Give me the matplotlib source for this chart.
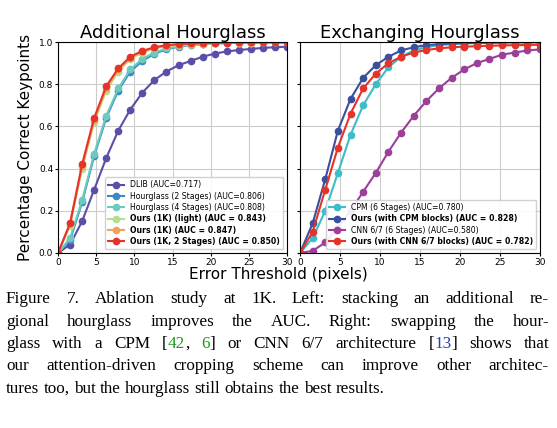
import numpy as np
import matplotlib
matplotlib.use("Agg")
import matplotlib.pyplot as plt

x = np.linspace(0, 30, 20)
dlib = [0,.04,.15,.30,.45,.58,.68,.76,.82,.86,.89,.91,.93,.945,.955,.962,.967,.972,.975,.978]
hg2 = [0,.06,.24,.46,.64,.77,.86,.91,.945,.965,.978,.985,.99,.993,.995,.996,.997,.998,.998,.999]
hg4 = [0,.07,.25,.47,.65,.78,.87,.92,.95,.97,.98,.987,.99,.993,.995,.996,.997,.998,.998,.999]
light = [0,.13,.40,.62,.77,.86,.92,.95,.97,.98,.985,.99,.992,.994,.995,.996,.997,.998,.998,.999]
ours1k = [0,.14,.41,.63,.78,.87,.925,.955,.972,.982,.988,.99,.992,.994,.995,.996,.997,.998,.998,.999]
ours2 = [0,.14,.42,.64,.79,.875,.93,.958,.975,.985,.99,.993,.995,.996,.997,.998,.998,.999,.999,.999]
cpm = [0,.07,.20,.38,.56,.70,.80,.88,.93,.96,.975,.985,.99,.993,.995,.996,.997,.998,.998,.999]
ours_cpm = [0,.14,.35,.58,.73,.83,.89,.93,.96,.975,.985,.99,.993,.995,.996,.997,.998,.999,.999,.999]
cnn = [0,.01,.05,.12,.20,.29,.38,.48,.57,.65,.72,.78,.83,.87,.90,.92,.94,.95,.96,.965]
ours_cnn = [0,.10,.30,.50,.66,.78,.85,.90,.93,.95,.962,.97,.975,.978,.98,.982,.984,.985,.986,.987]

left_series = [
    (dlib, "#5b4ea6", "DLIB (AUC=0.717)", False),
    (hg2, "#3a8ac8", "Hourglass (2 Stages) (AUC=0.806)", False),
    (hg4, "#6ccbbd", "Hourglass (4 Stages) (AUC=0.808)", False),
    (light, "#b4de8c", "Ours (1K) (light) (AUC = 0.843)", True),
    (ours1k, "#f5a057", "Ours (1K) (AUC = 0.847)", True),
    (ours2, "#e6332a", "Ours (1K, 2 Stages) (AUC = 0.850)", True),
]
right_series = [
    (cpm, "#3dbdc8", "CPM (6 Stages) (AUC=0.780)", False),
    (ours_cpm, "#3a4f9e", "Ours (with CPM blocks) (AUC = 0.828)", True),
    (cnn, "#9b3f9a", "CNN 6/7 (6 Stages) (AUC=0.580)", False),
    (ours_cnn, "#e6332a", "Ours (with CNN 6/7 blocks) (AUC = 0.782)", True),
]

fig = plt.figure(figsize=(5.57, 4.28), dpi=100)
axL = fig.add_axes([58/557, 1-253/428, 229/557, 211/428])
axR = fig.add_axes([300/557, 1-253/428, 240/557, 211/428])

def draw(ax, series, title, legloc):
    for y, c, lab, b in series:
        ax.plot(x, y, '-o', color=c, ms=4.5, lw=1.5, label=lab)
    ax.set_xlim(0, 30); ax.set_ylim(0, 1)
    ax.set_xticks([0,5,10,15,20,25,30])
    ax.set_yticks([0,.2,.4,.6,.8,1.0])
    ax.grid(True, color="#cccccc", lw=0.8)
    ax.tick_params(labelsize=6.5, length=2, pad=1.5)
    ax.set_title(title, fontsize=13, pad=3)
    leg = ax.legend(loc=legloc, fontsize=5.6, handlelength=2, labelspacing=0.3, borderpad=0.4, framealpha=0.9)
    for t, s in zip(leg.get_texts(), series):
        if s[3]:
            t.set_fontweight("bold")

draw(axL, left_series, "Additional Hourglass", "lower right")
draw(axR, right_series, "Exchanging Hourglass", "lower right")
axR.set_yticklabels([])
axL.set_ylabel("Percentage Correct Keypoints", fontsize=11, labelpad=4)
fig.text(0.5, 1-274/428, "Error Threshold (pixels)", ha="center", va="center", fontsize=11)

fig.canvas.draw()
r = fig.canvas.get_renderer()
lines = [
    [("Figure 7. Ablation study at 1K. Left:  stacking an additional re-", "black")],
    [("gional hourglass improves the AUC. Right:  swapping the hour-", "black")],
    [("glass with a CPM [", "black"), ("42", "#1a9a1a"), (", ", "black"), ("6", "#1a9a1a"),
     ("] or CNN 6/7 architecture [", "black"), ("13", "#2040c0"), ("] shows that", "black")],
    [("our attention-driven cropping scheme can improve other architec-", "black")],
    [("tures too, but the hourglass still obtains the best results.", "black")],
]
fs = 12.3
xl, xr = 6, 549
for i, segs in enumerate(lines):
    yp = 1 - (299 + i*22.5)/428
    # split into word tokens with colors; mark whether followed by a space
    toks = []
    for s, c in segs:
        parts = s.split(" ")
        for j, p in enumerate(parts):
            if p == "":
                if toks: toks[-1][2] = True
                continue
            toks.append([p, c, j < len(parts)-1])
    texts = []
    for p, c, sp in toks:
        t = fig.text(0, yp, p, fontsize=fs, family="Liberation Serif", color=c, va="center", ha="left")
        texts.append((t, t.get_window_extent(r).width, sp))
    total = sum(w for _, w, _ in texts)
    ngaps = sum(1 for _, _, sp in texts[:-1] if sp)
    space = fs*0.25*100/72
    if i < len(lines)-1 and ngaps:
        space = (xr - xl - total) / ngaps
    xp = xl
    for t, w, sp in texts:
        t.set_x(xp/557)
        xp += w + (space if sp else 0)
fig.savefig("out.png", dpi=100)
